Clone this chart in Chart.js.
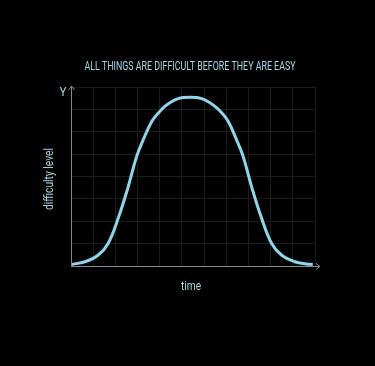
<!DOCTYPE html>
<html>
<head>
<meta charset="utf-8">
<script src="https://cdn.jsdelivr.net/npm/chart.js@4"></script>
<style>
  html, body { margin: 0; padding: 0; background: #000; }
  #wrap { width: 375px; height: 366px; }
</style>
</head>
<body>
<div id="wrap"><canvas id="chart" width="375" height="366"></canvas></div>
<script>
const titleText = "ALL THINGS ARE DIFFICULT BEFORE THEY ARE EASY";
const xLabel = "time";
const yLabel = "difficulty level";

// curve, in grid units
const timeValues = [0, 0.63, 1.23, 1.68, 2.13, 2.58, 2.96, 3.26, 3.64, 3.95, 4.23, 4.53, 4.83, 5.1, 5.36, 5.62, 5.89, 6.19, 6.49, 6.79, 7.09, 7.46, 7.76, 8.14, 8.59, 9.04, 9.49, 10.09, 10.6, 10.9];
const difficultyValues = [0.07, 0.19, 0.49, 1.02, 2.14, 3.55, 4.9, 5.65, 6.46, 6.85, 7.13, 7.34, 7.48, 7.53, 7.54, 7.53, 7.48, 7.34, 7.13, 6.85, 6.46, 5.65, 4.9, 3.55, 2.14, 1.02, 0.49, 0.19, 0.09, 0.07];

const lineColor = "#8fd6ea";
const textColor = "#a6d6e3";
const axisColor = "#7f8e93";
const gridColor = "#1a1d1e";
const fontFamily = "Roboto, 'Liberation Sans', sans-serif";

const points = timeValues.map((t, i) => ({ x: t, y: difficultyValues[i] }));

// draw text squeezed to a given width (the original uses a condensed face)
function narrowText(ctx, text, x, y, size, width, angle) {
  ctx.save();
  ctx.font = `${size}px ${fontFamily}`;
  const w = ctx.measureText(text).width;
  ctx.translate(x, y);
  if (angle) ctx.rotate(angle);
  ctx.scale(width / w, 1);
  ctx.textAlign = "center";
  ctx.textBaseline = "middle";
  ctx.fillText(text, 0, 0);
  ctx.restore();
}

const decorations = {
  id: "decorations",
  afterDraw(chart) {
    const { ctx, chartArea: a } = chart;
    ctx.save();
    ctx.strokeStyle = axisColor;
    ctx.lineWidth = 1;
    ctx.beginPath();
    ctx.moveTo(a.left, a.bottom + 0.5);
    ctx.lineTo(a.right + 5, a.bottom + 0.5);
    ctx.moveTo(a.right + 1, a.bottom - 2.5);
    ctx.lineTo(a.right + 5, a.bottom + 0.5);
    ctx.lineTo(a.right + 1, a.bottom + 3.5);
    ctx.moveTo(a.left + 0.5, a.bottom);
    ctx.lineTo(a.left + 0.5, a.top - 1);
    ctx.moveTo(a.left - 2.5, a.top + 3);
    ctx.lineTo(a.left + 0.5, a.top - 1);
    ctx.lineTo(a.left + 3.5, a.top + 3);
    ctx.stroke();
    ctx.fillStyle = textColor;
    narrowText(ctx, "Y", a.left - 8, a.top + 6, 13, 7);
    narrowText(ctx, titleText, 190, 67, 13.5, 211);
    narrowText(ctx, xLabel, 191, 287, 13.5, 20);
    narrowText(ctx, yLabel, 50, 179, 13, 62, -Math.PI / 2);
    ctx.restore();
  }
};

new Chart(document.getElementById("chart"), {
  type: "line",
  data: {
    datasets: [
      {
        data: points,
        borderColor: lineColor,
        borderWidth: 3,
        pointRadius: 0,
        fill: false,
        tension: 0.4
      }
    ]
  },
  options: {
    responsive: false,
    animation: false,
    layout: { padding: { left: 71, right: 60, top: 87, bottom: 100 } },
    plugins: {
      legend: { display: false },
      tooltip: { enabled: false },
      title: { display: false }
    },
    scales: {
      x: {
        type: "linear",
        min: 0,
        max: 11,
        ticks: { display: false, stepSize: 1 },
        border: { display: false },
        grid: { color: gridColor, drawTicks: false }
      },
      y: {
        min: 0,
        max: 8,
        ticks: { display: false, stepSize: 1 },
        border: { display: false },
        grid: { color: gridColor, drawTicks: false }
      }
    }
  },
  plugins: [decorations]
});
</script>
</body>
</html>
